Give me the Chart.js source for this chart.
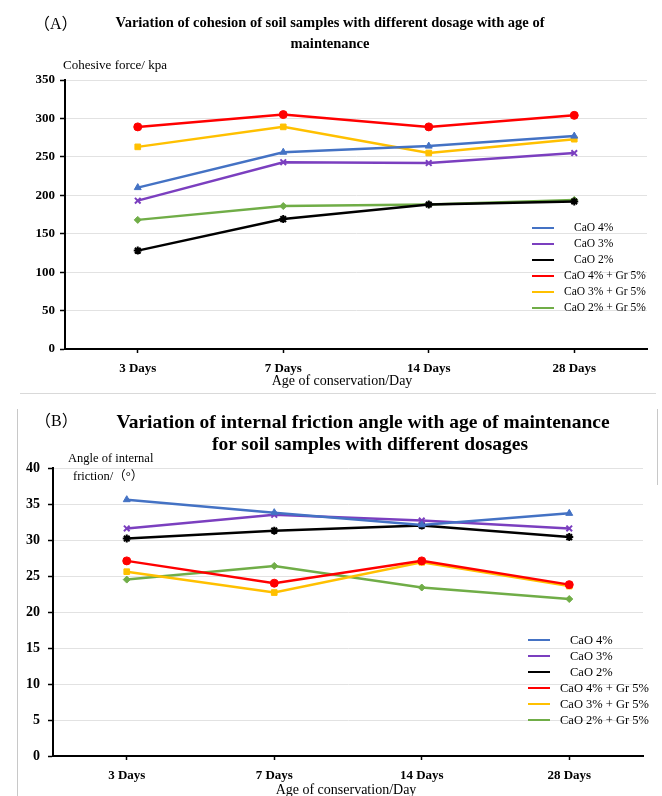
<!DOCTYPE html>
<html>
<head>
<meta charset="utf-8">
<script src="https://cdn.jsdelivr.net/npm/chart.js@4.4.1/dist/chart.umd.min.js"></script>
<style>
  body { margin: 0; background: #fff; }
  #page { position: relative; width: 662px; height: 796px; overflow: hidden; font-family: 'Liberation Serif', 'Times New Roman', serif; color: #000; }
  canvas { position: absolute; left: 0; }
  .txt { position: absolute; white-space: nowrap; line-height: 1; }
  .title { font-weight: bold; text-align: center; }
  .tag { font-family: 'Liberation Serif', 'Noto Sans CJK SC', serif; }
  .rule { position: absolute; background: #d9d9d9; }
  .legend { position: absolute; }
  .legend .row { position: relative; height: 16px; }
  .legend .sw { position: absolute; left: 0; top: 7px; width: 22px; height: 2px; }
  .legend .lb { position: absolute; left: 32px; top: 1px; white-space: nowrap; }
</style>
</head>
<body>
<div id="page">
  <canvas id="chartA" width="662" height="393" style="top:0"></canvas>
  <canvas id="chartB" width="662" height="401" style="top:395px"></canvas>

  <div class="txt tag" style="left:34px; top:16px; font-size:16px;">（A）</div>
  <div class="txt title" style="left:0; width:660px; top:12px; font-size:14.5px; line-height:21px;">
    <div>Variation of cohesion of soil samples with different dosage with age of</div>
    <div>maintenance</div>
  </div>
  <div class="txt" style="left:63px; top:58px; font-size:13px;">Cohesive force/ kpa</div>
  <div class="txt" style="left:0; width:684px; text-align:center; top:374px; font-size:14px;">Age of conservation/Day</div>
  <div class="legend" id="legendA" style="left:532px; top:220px; width:115px; font-size:11.5px;"></div>

  <div class="rule" style="left:20px; top:393px; width:636px; height:1px;"></div>
  <div class="rule" style="left:17px; top:409px; width:1px; height:387px; background:#c8c8c8;"></div>
  <div class="rule" style="left:657px; top:409px; width:1px; height:76px; background:#c8c8c8;"></div>

  <div class="txt tag" style="left:35px; top:413px; font-size:16px;">（B）</div>
  <div class="txt title" style="left:0; width:726px; top:411px; font-size:19.5px; line-height:22px;">
    <div>Variation of internal friction angle with age of maintenance</div>
  </div>
  <div class="txt title" style="left:0; width:740px; top:433px; font-size:19.5px; line-height:22px;">
    <div>for soil samples with different dosages</div>
  </div>
  <div class="txt" style="left:68px; top:452px; font-size:12.5px;">Angle of internal</div>
  <div class="txt tag" style="left:73px; top:470px; font-size:12.5px;">friction/（°）</div>
  <div class="txt" style="left:0; width:692px; text-align:center; top:783px; font-size:14px;">Age of conservation/Day</div>
  <div class="legend" id="legendB" style="left:528px; top:632px; width:126px; font-size:12.5px;"></div>
</div>

<script>
// categories and series names
const days = ['3 Days', '7 Days', '14 Days', '28 Days'];
const seriesNames = ['CaO 4%', 'CaO 3%', 'CaO 2%', 'CaO 4% + Gr 5%', 'CaO 3% + Gr 5%', 'CaO 2% + Gr 5%'];
const seriesColors = ['#4472c4', '#7b3fbf', '#000000', '#ff0000', '#ffc000', '#70ad47'];
const seriesMarkers = ['triangle', 'crossRot', 'star', 'circle', 'rect', 'rectRot'];

// (A) cohesion, kPa
const cohCaO4 = [210, 256, 264, 277];
const cohCaO3 = [193, 243, 242, 255];
const cohCaO2 = [128, 169, 188, 192];
const cohCaO4Gr = [289, 305, 289, 304];
const cohCaO3Gr = [263, 289, 255, 273];
const cohCaO2Gr = [168, 186, 188, 194];
const cohTicks = [0, 50, 100, 150, 200, 250, 300, 350];

// (B) internal friction angle, degrees
const phiCaO4 = [35.6, 33.8, 32.1, 33.7];
const phiCaO3 = [31.6, 33.5, 32.7, 31.6];
const phiCaO2 = [30.2, 31.3, 32.0, 30.4];
const phiCaO4Gr = [27.1, 24.0, 27.1, 23.8];
const phiCaO3Gr = [25.6, 22.7, 26.9, 23.6];
const phiCaO2Gr = [24.5, 26.4, 23.4, 21.8];
const phiTicks = [0, 5, 10, 15, 20, 25, 30, 35, 40];

Chart.defaults.font.family = "'Liberation Serif', 'Times New Roman', serif";
Chart.defaults.color = '#000';

function makeDatasets(seriesValues) {
  return seriesValues.map((values, i) => ({
    label: seriesNames[i],
    data: values,
    borderColor: seriesColors[i],
    backgroundColor: seriesColors[i],
    pointStyle: seriesMarkers[i],
    pointRadius: seriesMarkers[i] === 'rectRot' ? 3.5 : 4,
    pointBorderWidth: (seriesMarkers[i] === 'crossRot' || seriesMarkers[i] === 'star') ? 2 : 1,
    borderWidth: 2.5,
    tension: 0
  }));
}

function buildChart(id, seriesValues, cfg) {
  return new Chart(document.getElementById(id), {
    type: 'line',
    data: { labels: days, datasets: makeDatasets(seriesValues) },
    options: {
      responsive: false,
      animation: false,
      devicePixelRatio: 1,
      layout: { padding: { top: cfg.top, right: cfg.right, bottom: 0, left: 0 } },
      plugins: { legend: { display: false }, tooltip: { enabled: false } },
      scales: {
        x: {
          offset: true,
          afterFit: (scale) => { scale.height = cfg.xHeight; },
          grid: { drawOnChartArea: false, offset: false, tickLength: 4, tickColor: '#000', tickWidth: 1.5 },
          border: { color: '#000', width: 2 },
          ticks: { padding: 8, font: { size: 13, weight: 'bold' }, color: '#000' }
        },
        y: {
          min: cfg.ticks[0],
          max: cfg.ticks[cfg.ticks.length - 1],
          afterFit: (scale) => { scale.width = cfg.yWidth; },
          afterBuildTicks: (scale) => { scale.ticks = cfg.ticks.map(v => ({ value: v })); },
          grid: { color: '#e2e2e2', lineWidth: 1, tickLength: 5, tickColor: '#000', tickWidth: 1.5 },
          border: { color: '#000', width: 2 },
          ticks: { padding: cfg.yPad, font: { size: cfg.yFont, weight: 'bold' }, color: '#000' }
        }
      }
    }
  });
}

// legend: the longer names start further left, like the original
function buildLegend(id) {
  const box = document.getElementById(id);
  const longest = Math.max(...seriesNames.map(n => n.length));
  box.innerHTML = seriesNames.map((name, i) => `
    <div class="row">
      <div class="sw" style="background:${seriesColors[i]}"></div>
      <div class="lb" style="padding-left:${Math.round((longest - name.length) * 1.3)}px">${name}</div>
    </div>`).join('');
}

buildChart('chartA', [cohCaO4, cohCaO3, cohCaO2, cohCaO4Gr, cohCaO3Gr, cohCaO2Gr],
  { top: 80, right: 15, xHeight: 44, yWidth: 65, yPad: 5, yFont: 13, ticks: cohTicks });
buildChart('chartB', [phiCaO4, phiCaO3, phiCaO2, phiCaO4Gr, phiCaO3Gr, phiCaO2Gr],
  { top: 73, right: 19, xHeight: 40, yWidth: 53, yPad: 8, yFont: 14, ticks: phiTicks });
buildLegend('legendA');
buildLegend('legendB');
</script>
</body>
</html>
